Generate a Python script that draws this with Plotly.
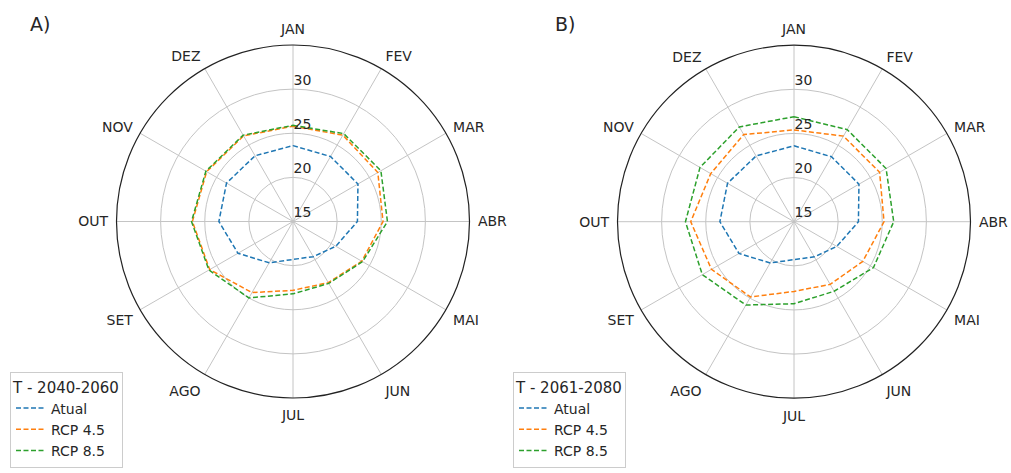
import plotly.graph_objects as go

months = ["JAN", "FEV", "MAR", "ABR", "MAI", "JUN", "JUL", "AGO", "SET", "OUT", "NOV", "DEZ"]
radial_ticks = [15, 20, 25, 30]

atual = [23.6, 23.5, 23.5, 22.3, 20.6, 19.6, 19.3, 20.4, 22.2, 23.4, 23.7, 23.6]

a_rcp45 = [25.8, 26.3, 26.1, 25.2, 24.0, 23.0, 22.8, 24.3, 25.9, 26.4, 26.3, 26.2]
a_rcp85 = [25.9, 26.5, 26.5, 25.7, 24.1, 23.1, 23.2, 25.0, 26.0, 26.5, 26.4, 26.3]

b_rcp45 = [25.4, 26.2, 26.2, 25.2, 24.0, 23.2, 22.9, 24.85, 25.8, 26.7, 25.9, 26.4]
b_rcp85 = [26.9, 27.05, 27.05, 26.3, 25.4, 24.1, 24.3, 25.9, 27.0, 27.3, 27.3, 27.4]

series_names = ["Atual", "RCP 4.5", "RCP 8.5"]
colors = ["#1f77b4", "#ff7f0e", "#2ca02c"]
legend_titles = ["T - 2040-2060", "T - 2061-2080"]
panel_labels = ["A)", "B)"]

FONT = "DejaVu Sans, sans-serif"
TXT = "#262626"

W, H = 1011, 473

fig = go.Figure()


def closed(vals):
    return list(vals) + [vals[0]]


theta_closed = months + [months[0]]

panels = [
    ("polar", "legend", [atual, a_rcp45, a_rcp85]),
    ("polar2", "legend2", [atual, b_rcp45, b_rcp85]),
]

for subplot, legend, data in panels:
    for name, col, vals in zip(series_names, colors, data):
        fig.add_trace(go.Scatterpolar(
            r=closed(vals), theta=theta_closed, mode="lines", name=name,
            line=dict(color=col, width=1.5, dash="5px,2.5px"),
            subplot=subplot, legend=legend,
        ))


def px_x(x):
    return x / W


def px_y(y):
    return 1 - y / H


def polar_layout(cx, cy, rad):
    return dict(
        domain=dict(x=[px_x(cx - rad), px_x(cx + rad)],
                    y=[px_y(cy + rad), px_y(cy - rad)]),
        bgcolor="white",
        radialaxis=dict(
            range=[15, 35], tickvals=radial_ticks,
            # blank second line lifts each label just above its grid circle
            ticktext=[f"{v}<br> " for v in radial_ticks],
            showline=False, ticks="", angle=90, tickangle=90,
            gridcolor="#c4c4c4", gridwidth=1,
            tickfont=dict(size=14, color=TXT, family=FONT),
        ),
        angularaxis=dict(
            type="category", categoryarray=months, rotation=90, direction="clockwise",
            showline=True, linecolor="#222222", linewidth=1.2,
            gridcolor="#c4c4c4", gridwidth=1,
            ticks="outside", ticklen=5, tickcolor="rgba(0,0,0,0)",
            tickfont=dict(size=14, color=TXT, family=FONT),
        ),
    )


legend_common = dict(
    bgcolor="white", bordercolor="#cccccc", borderwidth=1,
    font=dict(size=14, color=TXT, family=FONT),
    xanchor="left", yanchor="top", tracegroupgap=0,
)

fig.update_layout(
    width=W, height=H,
    margin=dict(l=0, r=0, t=0, b=0),
    paper_bgcolor="white",
    font=dict(family=FONT, color=TXT),
    polar=polar_layout(293, 221.5, 176.5),
    polar2=polar_layout(794, 221.7, 176.5),
    legend=dict(x=px_x(10), y=px_y(372),
                title=dict(text=legend_titles[0], font=dict(size=15, color=TXT, family=FONT)),
                **legend_common),
    legend2=dict(x=px_x(513), y=px_y(372),
                 title=dict(text=legend_titles[1], font=dict(size=15, color=TXT, family=FONT)),
                 **legend_common),
    annotations=[
        dict(text=panel_labels[0], x=px_x(40), y=px_y(24), xref="paper", yref="paper",
             xanchor="center", yanchor="middle",
             showarrow=False, font=dict(size=19, color=TXT, family=FONT)),
        dict(text=panel_labels[1], x=px_x(565), y=px_y(24), xref="paper", yref="paper",
             xanchor="center", yanchor="middle",
             showarrow=False, font=dict(size=19, color=TXT, family=FONT)),
    ],
)

# remove the browser's default page margin so the 1011x473 figure fills the window exactly
fig.write_html(
    "out.html",
    config={"displayModeBar": False},
    post_script="document.body.style.margin='0';"
                "document.documentElement.style.overflow='hidden';"
                "document.body.style.overflow='hidden';",
)
